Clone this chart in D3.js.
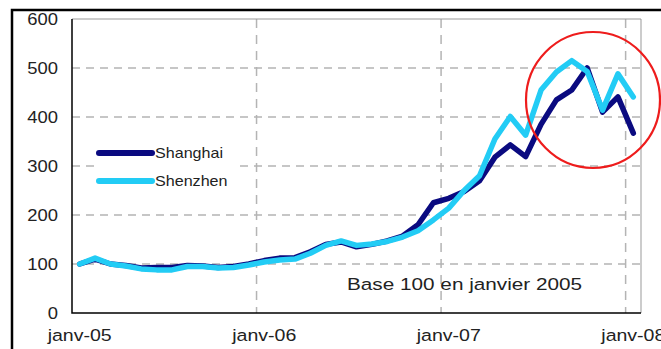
<!DOCTYPE html>
<html>
<head>
<meta charset="utf-8">
<script src="https://cdn.jsdelivr.net/npm/d3@7"></script>
<style>
	body{margin:0;background:#fff;}
	svg text{font-family:"Liberation Sans",Arial,sans-serif;fill:#222;}
</style>
</head>
<body>
<div id="idChart"></div>
<script>
// months, janv-05 .. janv-08
var aMonths=["janv-05","févr-05","mars-05","avr-05","mai-05","juin-05","juil-05","août-05","sept-05","oct-05","nov-05","déc-05",
	"janv-06","févr-06","mars-06","avr-06","mai-06","juin-06","juil-06","août-06","sept-06","oct-06","nov-06","déc-06",
	"janv-07","févr-07","mars-07","avr-07","mai-07","juin-07","juil-07","août-07","sept-07","oct-07","nov-07","déc-07",
	"janv-08"];
var aShanghai=[100,110,100,97,92,93,93,97,96,93,95,100,
	107,112,113,125,140,145,135,140,147,157,180,225,
	234,248,270,318,343,319,385,435,455,500,410,441,367];
var aShenzhen=[100,112,100,96,90,88,88,95,95,92,93,98,
	104,108,110,122,138,147,138,141,146,155,168,190,
	214,250,280,355,401,363,455,492,515,493,414,488,441];
var aXTicks=["janv-05","janv-06","janv-07","janv-08"];
var aYTicks=[0,100,200,300,400,500,600];
var aGridX=["janv-06","janv-07","janv-08"];
var aGridY=[100,200,300,400,500];
var aSeries=[
	{sName:"Shanghai",aValues:aShanghai,sColor:"#0a0a80"},
	{sName:"Shenzhen",aValues:aShenzhen,sColor:"#22ccf5"}
];
var sNote="Base 100 en janvier 2005";

var iWidth=661, iHeight=349;
var iLeft=72, iRight=641, iTop=19, iBottom=313;
var fStretch=1.15;

var mySvg=d3.select("#idChart").append("svg")
	.attr("width",iWidth)
	.attr("height",iHeight);

var myX=d3.scaleBand().domain(aMonths).range([iLeft,iRight]).padding(0);
var myY=d3.scaleLinear().domain([0,600]).range([iBottom,iTop]);

function fText(myParent,x,y,sText,iSize,sAnchor,fSx)
{
	return myParent.append("text")
		.attr("transform","translate("+x+","+y+") scale("+fSx+",1)")
		.attr("text-anchor",sAnchor)
		.style("font-size",iSize+"px")
		.text(sText);
}

// outer frame
mySvg.append("rect")
	.attr("x",12).attr("y",10)
	.attr("width",800).attr("height",500)
	.attr("fill","none")
	.attr("stroke","#000")
	.attr("stroke-width",2.5);

// grid
var myGrid=mySvg.append("g");
myGrid.selectAll(".gy").data(aGridY).enter().append("line")
	.attr("x1",iLeft).attr("x2",iRight)
	.attr("y1",function(d){return myY(d);})
	.attr("y2",function(d){return myY(d);})
	.attr("stroke","#b4b4b4").attr("stroke-width",1.5)
	.attr("stroke-dasharray","8,6");
myGrid.selectAll(".gx").data(aGridX).enter().append("line")
	.attr("x1",function(d){return myX(d);})
	.attr("x2",function(d){return myX(d);})
	.attr("y1",iTop).attr("y2",iBottom)
	.attr("stroke","#b4b4b4").attr("stroke-width",1.5)
	.attr("stroke-dasharray","9,7");

// plot frame
mySvg.append("path")
	.attr("d","M"+iLeft+","+iTop+"H"+iRight+"V"+iBottom)
	.attr("fill","none").attr("stroke","#999").attr("stroke-width",1);
mySvg.append("path")
	.attr("d","M"+iLeft+","+iTop+"V"+iBottom+"H"+iRight)
	.attr("fill","none").attr("stroke","#000").attr("stroke-width",1.5);

// axis labels
aYTicks.forEach(function(v){
	fText(mySvg,58,myY(v)+5.5,String(v),16,"end",fStretch);
});
aXTicks.forEach(function(s){
	fText(mySvg,myX(s)+myX.bandwidth()/2,341,s,17,"middle",fStretch);
});

// series
var myLine=d3.line()
	.x(function(d,i){return myX(aMonths[i])+myX.bandwidth()/2;})
	.y(function(d){return myY(d);});
mySvg.selectAll(".series").data(aSeries).enter().append("path")
	.attr("class","series")
	.attr("d",function(s){return myLine(s.aValues);})
	.attr("fill","none")
	.attr("stroke",function(s){return s.sColor;})
	.attr("stroke-width",5.5)
	.attr("stroke-linejoin","round")
	.attr("stroke-linecap","round");

// legend
var myLegend=mySvg.append("g");
myLegend.append("rect")
	.attr("x",95).attr("y",140).attr("width",143).attr("height",55)
	.attr("fill","#fff");
aSeries.forEach(function(s,i){
	var y=153+i*28;
	myLegend.append("line")
		.attr("x1",99).attr("x2",152)
		.attr("y1",y).attr("y2",y)
		.attr("stroke",s.sColor).attr("stroke-width",6)
		.attr("stroke-linecap","round");
	fText(myLegend,155,y+5,s.sName,14,"start",fStretch);
});

// note
fText(mySvg,347,290,sNote,17,"start",1.22);

// red circle
mySvg.append("ellipse")
	.attr("cx",593).attr("cy",100)
	.attr("rx",67).attr("ry",68)
	.attr("fill","none")
	.attr("stroke","#ee1c1c")
	.attr("stroke-width",2.2);
</script>
</body>
</html>
